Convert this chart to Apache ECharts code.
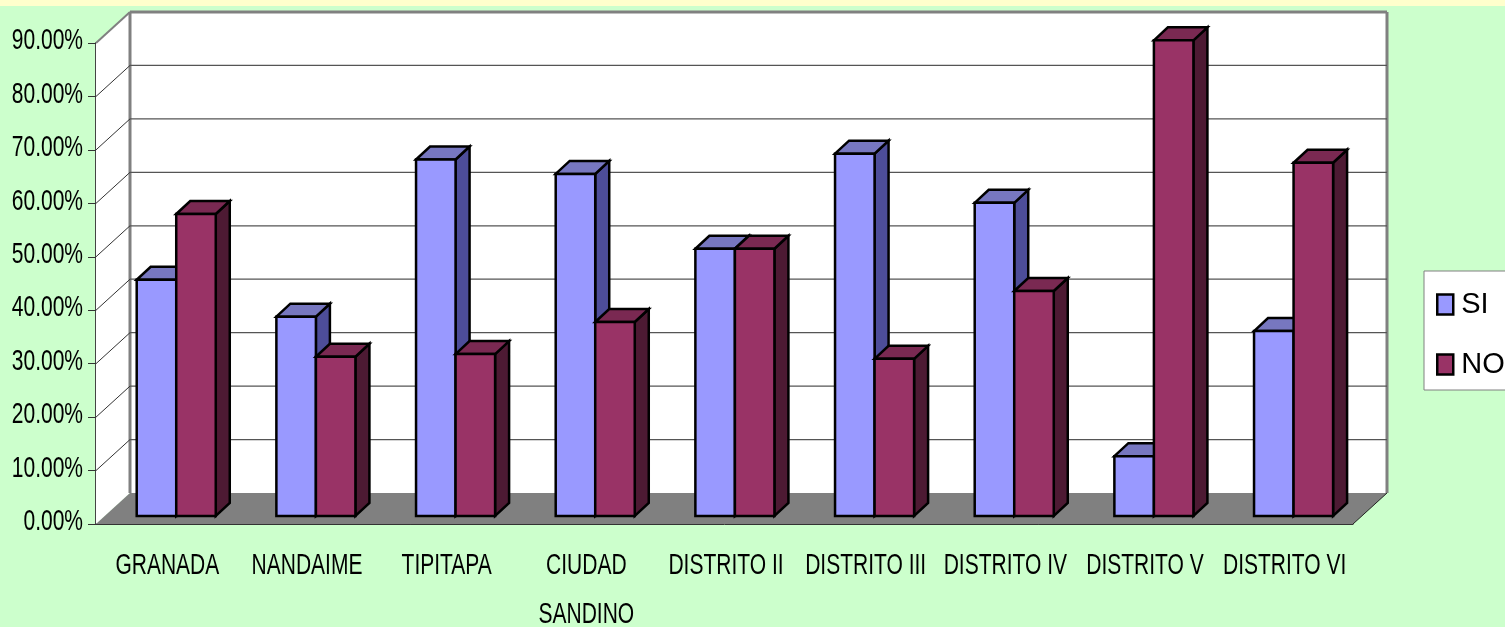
<!DOCTYPE html>
<html>
<head>
<meta charset="utf-8">
<title>SI / NO por distrito</title>
<script src="https://cdn.jsdelivr.net/npm/echarts@6/dist/echarts.min.js"></script>
<style>
  html, body { margin: 0; padding: 0; background: #ccffcc; }
  #chart { width: 1505px; height: 627px; }
</style>
</head>
<body>
<div id="chart"></div>
<script>
const categories = ['GRANADA', 'NANDAIME', 'TIPITAPA', 'CIUDAD\nSANDINO', 'DISTRITO II', 'DISTRITO III', 'DISTRITO IV', 'DISTRITO V', 'DISTRITO VI']
const siValues = [44.2, 37.3, 66.7, 64, 50, 67.8, 58.6, 11.2, 34.6]
const noValues = [56.5, 29.8, 30.3, 36.3, 50, 29.4, 42.1, 89, 66.1]
const yTicks = [0, 10, 20, 30, 40, 50, 60, 70, 80, 90]

const font = '"Liberation Sans", Arial, sans-serif'
const WALL_DX = 34
const WALL_DY = -31
const BAR_DX = 14
const BAR_DY = -13
const BAR_SHIFT_X = 10.4
const BAR_SHIFT_Y = -8
const BAR_RATIO = 0.283
// the source picture is squeezed sideways, axis labels can't do that so they are custom text
const TEXT_SCALE_X = 0.7

function poly(points, fill, stroke, lineWidth) {
  return {
    type: 'polygon',
    shape: { points },
    style: { fill, stroke: stroke || null, lineWidth: lineWidth || 0, lineJoin: 'miter' },
  }
}

function line(x1, y1, x2, y2, stroke, lineWidth) {
  return { type: 'line', shape: { x1, y1, x2, y2 }, style: { stroke, lineWidth } }
}

function label(x, y, text, align, verticalAlign) {
  return {
    type: 'text',
    x,
    y,
    scaleX: TEXT_SCALE_X,
    style: { text, fill: '#000', font: '30px ' + font, align, verticalAlign, lineHeight: 49 },
  }
}

function renderWalls(params) {
  const g = params.coordSys
  const l = g.x, r = g.x + g.width, t = g.y, b = g.y + g.height
  const gray = '#808080'
  return {
    type: 'group',
    children: [
      poly([[l + WALL_DX, t + WALL_DY], [r + WALL_DX, t + WALL_DY], [r + WALL_DX, b + WALL_DY], [l + WALL_DX, b + WALL_DY]], '#fff'),
      poly([[l, t], [l + WALL_DX, t + WALL_DY], [l + WALL_DX, b + WALL_DY], [l, b]], '#fff'),
      poly([[l, b], [l + WALL_DX, b + WALL_DY], [r + WALL_DX, b + WALL_DY], [r, b]], gray),
      line(l, t, l + WALL_DX, t + WALL_DY, gray, 2),
      line(l + WALL_DX, t + WALL_DY, r + WALL_DX, t + WALL_DY, gray, 3),
      line(l + WALL_DX, t + WALL_DY, l + WALL_DX, b + WALL_DY, gray, 3),
      line(r + WALL_DX, t + WALL_DY, r + WALL_DX, b + WALL_DY, gray, 3),
      line(r, b, r + WALL_DX, b + WALL_DY, '#222', 1),
    ],
  }
}

function renderGridLine(params, api) {
  const g = params.coordSys
  const y = api.coord([0, api.value(0)])[1]
  if (api.value(0) === 0 || api.value(0) === 90) return { type: 'group', children: [] }
  return {
    type: 'group',
    children: [
      line(g.x, y, g.x + WALL_DX, y + WALL_DY, '#333', 1),
      line(g.x + WALL_DX, y + WALL_DY, g.x + g.width + WALL_DX, y + WALL_DY, '#555', 1.2),
    ],
  }
}

function renderYLabel(params, api) {
  const v = api.value(0)
  const y = api.coord([0, v])[1]
  return label(params.coordSys.x - 13, y - 2, v.toFixed(2) + '%', 'right', 'middle')
}

function renderXLabel(params, api) {
  const i = api.value(0)
  const x = api.coord([i, 0])[0]
  const y = params.coordSys.y + params.coordSys.height
  return label(x + 1.5, y + 17, categories[i], 'center', 'top')
}

// one bar drawn as front / top / side faces, side = -1 left of the category centre, +1 right
function barRenderer(side, front, top, right) {
  return function (params, api) {
    const w = api.size([1, 0])[0] * BAR_RATIO
    const head = api.coord([api.value(0), api.value(1)])
    const foot = api.coord([api.value(0), 0])
    const x0 = head[0] + BAR_SHIFT_X + (side < 0 ? -w : 0)
    const x1 = x0 + w
    const yTop = head[1] + BAR_SHIFT_Y
    const yBase = foot[1] + BAR_SHIFT_Y
    const lw = 2.5
    return {
      type: 'group',
      children: [
        poly([[x1, yTop], [x1 + BAR_DX, yTop + BAR_DY], [x1 + BAR_DX, yBase + BAR_DY], [x1, yBase]], right, '#000', lw),
        poly([[x0, yTop], [x0 + BAR_DX, yTop + BAR_DY], [x1 + BAR_DX, yTop + BAR_DY], [x1, yTop]], top, '#000', lw),
        poly([[x0, yTop], [x1, yTop], [x1, yBase], [x0, yBase]], front, '#000', lw),
      ],
    }
  }
}

const chart = echarts.init(document.getElementById('chart'))
chart.setOption({
  animation: false,
  backgroundColor: '#ccffcc',
  graphic: [{
    type: 'rect',
    left: 0,
    top: 0,
    shape: { width: 1505, height: 6 },
    style: { fill: '#ffffcc' },
  }],
  grid: { left: 96, top: 43, width: 1257, height: 481, outerBoundsMode: 'none' },
  xAxis: {
    type: 'category',
    data: categories,
    axisLine: { lineStyle: { color: '#333', width: 1 } },
    axisTick: { length: 9, lineStyle: { color: '#222' } },
    axisLabel: { show: false },
  },
  yAxis: {
    type: 'value',
    min: 0,
    max: 90,
    interval: 10,
    splitLine: { show: false },
    axisLine: { show: true, lineStyle: { color: '#444', width: 2 } },
    axisTick: { show: true, length: 8, lineStyle: { color: '#333' } },
    axisLabel: { show: false },
  },
  legend: {
    left: 1424,
    top: 271,
    orient: 'vertical',
    selectedMode: false,
    data: ['SI', 'NO'],
    backgroundColor: '#fff',
    borderColor: '#808080',
    borderWidth: 1,
    padding: [19, 60, 11, 12],
    itemGap: 31,
    itemWidth: 16,
    itemHeight: 20,
    icon: 'rect',
    itemStyle: { borderColor: '#000', borderWidth: 2.5 },
    textStyle: { color: '#000', fontFamily: font, fontSize: 29, padding: [0, 0, 0, 3] },
  },
  series: [
    { type: 'custom', name: 'walls', silent: true, z: 1, renderItem: renderWalls, data: [0] },
    {
      type: 'custom', name: 'gridlines', silent: true, z: 1,
      encode: { y: 0 }, renderItem: renderGridLine, data: yTicks,
    },
    {
      type: 'custom', name: 'SI', z: 2, itemStyle: { color: '#9999ff' },
      renderItem: barRenderer(-1, '#9999ff', '#7777c0', '#4d4d99'),
      encode: { x: 0, y: 1 }, data: siValues.map((v, i) => [i, v]),
    },
    {
      type: 'custom', name: 'NO', z: 3, itemStyle: { color: '#993366' },
      renderItem: barRenderer(1, '#993366', '#7a2952', '#4d1a33'),
      encode: { x: 0, y: 1 }, data: noValues.map((v, i) => [i, v]),
    },
    {
      type: 'custom', name: 'yLabels', silent: true, z: 4,
      encode: { y: 0 }, renderItem: renderYLabel, data: yTicks,
    },
    {
      type: 'custom', name: 'xLabels', silent: true, z: 4,
      encode: { x: 0 }, renderItem: renderXLabel, data: categories.map((c, i) => i),
    },
  ],
})
</script>
</body>
</html>
